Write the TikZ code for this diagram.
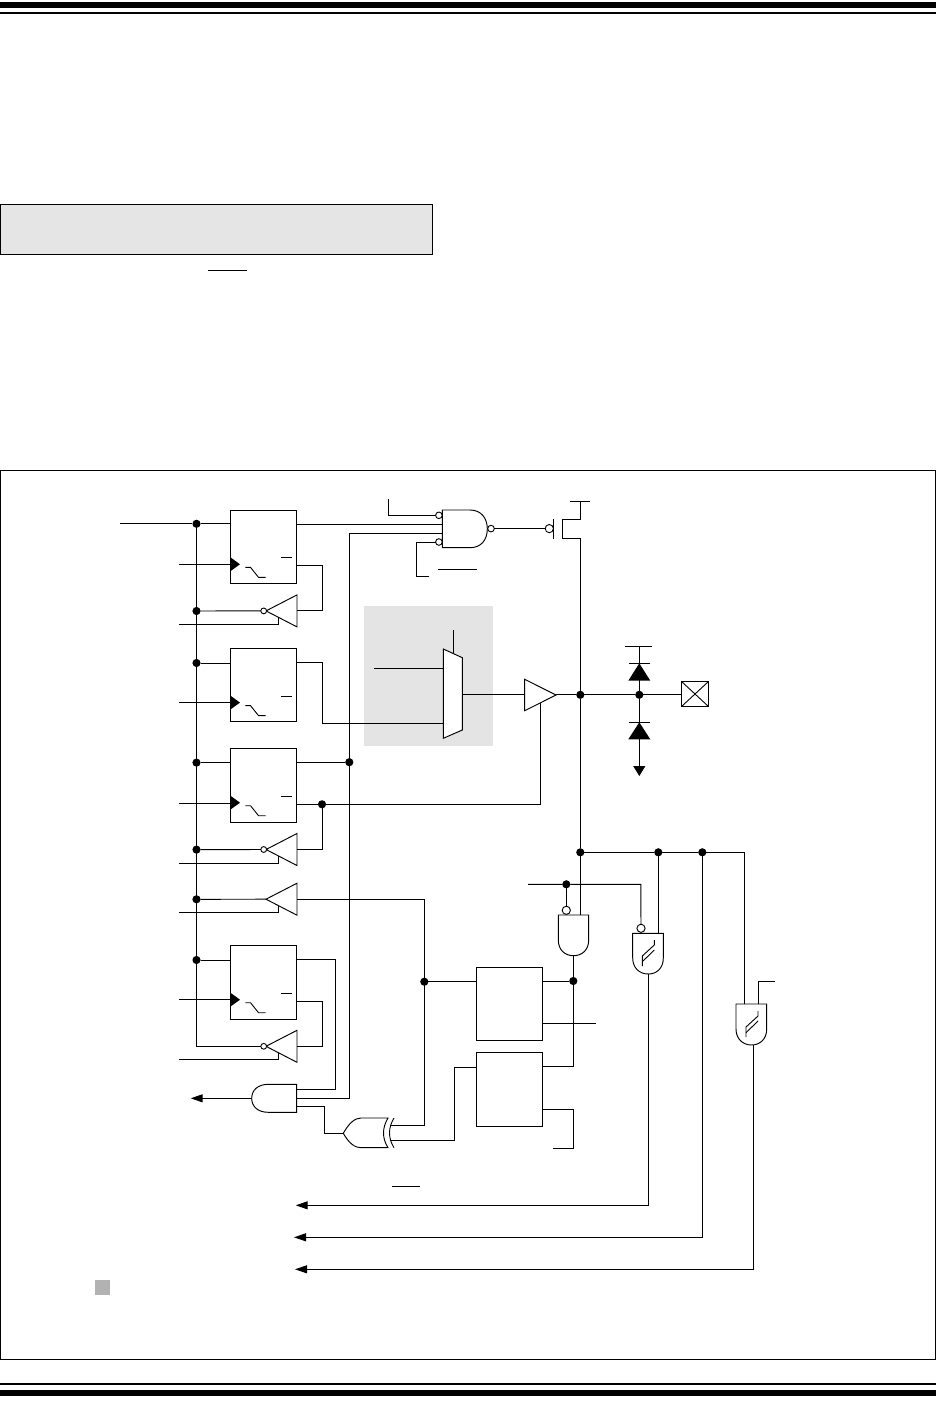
\documentclass[tikz,border=0pt]{standalone}
\usetikzlibrary{arrows.meta,calc}
\tikzset{
  x=1pt,y=-1pt,
  wire/.style={line width=0.95pt,line cap=butt,line join=miter},
  gate/.style={wire,fill=white},
  thin part/.style={line width=0.9pt},
  ffbox/.style={draw,line width=0.95pt,fill=white,rectangle,anchor=north west,minimum width=66.4pt,minimum height=73.6pt,inner sep=0pt,outer sep=0pt},
  dotn/.style={circle,fill=black,minimum size=8.2pt,inner sep=0pt,outer sep=0pt},
  bub/.style={circle,draw,line width=0.9pt,fill=white,minimum size=5.8pt,inner sep=0pt,outer sep=0pt},
  bubl/.style={circle,draw,line width=0.9pt,fill=white,minimum size=8.2pt,inner sep=0pt,outer sep=0pt},
  arrowl/.style={wire,-{Triangle[length=12pt,width=8pt]}},
  arrowd/.style={wire,-{Triangle[length=10pt,width=12pt]}},
  shadebox/.style={fill=black!10.5,draw=none},
}
% flip-flop box with clock wedge, bar and edge mark
\newcommand\FFbox[2]{%
  \node[ffbox] (#1) at (230.3,#2) {};
  \fill ($(230,#2)+(0,47)$) -- ($(240,#2)+(0,54.3)$) -- ($(230,#2)+(0,61.5)$) -- cycle;
  \draw[thin part] ($(281,#2)+(0,47.7)$) -- ($(292,#2)+(0,47.7)$);
  \draw[thin part] ($(245.3,#2)+(0,57.3)$) -- ($(250.5,#2)+(0,57.3)$) -- ($(258.5,#2)+(0,67.3)$) -- ($(265.7,#2)+(0,67.3)$);
}
% left-pointing tri-state buffer
\newcommand\TRI[2]{%
  \draw[gate] (297,#2-16) -- (297,#2+16) -- (266,#2) -- cycle;
  \coordinate (#1b) at (297,#2);
  \coordinate (#1a) at (266,#2);
  \coordinate (#1en) at (278.3,#2+6.3);
}
% hysteresis mark
\newcommand\HYST[2]{%
  \draw[thin part] (#1,#2+26) -- (#1,#2+16) -- (#1+12,#2+5) -- (#1+12,#2);
  \draw[thin part] (#1,#2+21.7) -- (#1+12,#2+10);
}
\begin{document}
\begin{tikzpicture}
\useasboundingbox (0,0) rectangle (936,1412);
% page rules
\fill (0,2) rectangle (936,8);
\fill (0,12) rectangle (936,14);
\fill (0,1383.3) rectangle (936,1385);
\fill (0,1389.7) rectangle (936,1396);
% title band
\draw[line width=0.95pt,fill=black!10] (0.5,204.5) rectangle (432.5,254.5);
\draw[wire] (208.3,270.3) -- (247,270.3);
% frame
\draw[line width=0.95pt] (0.7,470.3) rectangle (935,1359.3);
% shaded regions
\fill[shadebox] (364,606) rectangle (493,746);
\fill[black!30] (95,1280) rectangle (110,1295);

% junction dots
\node[dotn] (b1) at (196.5,523.8) {};
\node[dotn] (b2) at (196.5,611) {};
\node[dotn] (b3) at (196.5,663) {};
\node[dotn] (b4) at (196.5,762.6) {};
\node[dotn] (b5) at (196.5,849.6) {};
\node[dotn] (b6) at (196.5,899.3) {};
\node[dotn] (b7) at (196.5,960) {};
\node[dotn] (j1) at (349.3,762.2) {};
\node[dotn] (j2) at (322,804.3) {};
\node[dotn] (j3) at (424.3,981.7) {};
\node[dotn] (j4) at (580.3,694.8) {};
\node[dotn] (j5) at (639.3,694.8) {};
\node[dotn] (j6) at (580.3,852.3) {};
\node[dotn] (j7) at (658.3,852.3) {};
\node[dotn] (j8) at (702.3,852.3) {};
\node[dotn] (j9) at (566.3,884.3) {};
\node[dotn] (j10) at (573.3,981) {};

% flip-flops
\FFbox{ffa}{510}
\FFbox{ffb}{648.3}
\FFbox{ffc}{748.4}
\FFbox{ffd}{945.4}
% right-hand blocks
\node[ffbox] (blka) at (476.3,967.3) {};
\node[ffbox] (blkb) at (476.3,1052.4) {};

% tri-state buffers
\TRI{ia}{610.9}
\TRI{ib}{849.5}
\TRI{ic}{899.2}
\TRI{id}{1046.3}
\node[bub] (ba) at (263.7,610.9) {};
\node[bub] (bb) at (263.7,849.5) {};
\node[bub] (bd) at (263.7,1046.3) {};

% free ends
\coordinate (inA) at (120,523.8);
\coordinate (clka) at (179,564.5);
\coordinate (clkb) at (179,702.4);
\coordinate (clkc) at (179,803.3);
\coordinate (clkd) at (179,999.4);
\coordinate (ena) at (179,624.4);
\coordinate (enb) at (179,863.3);
\coordinate (enc) at (179,912.3);
\coordinate (end) at (179,1059.4);
\coordinate (busend) at (196.5,1046.3);

% bus and FF inputs
\draw[wire] (inA) -- (b1) -- (ffa.west |- b1);
\draw[wire] (b1) -- (busend) -- (bd.west);
\draw[wire] (b2) -- (ba.west);
\draw[wire] (b3) -- (ffb.west |- b3);
\draw[wire] (b4) -- (ffc.west |- b4);
\draw[wire] (b5) -- (bb.west);
\draw[wire] (b6) -- (ica);
\draw[wire] (b7) -- (ffd.west |- b7);
% clocks
\draw[wire] (clka) -- (ffa.west |- clka);
\draw[wire] (clkb) -- (ffb.west |- clkb);
\draw[wire] (clkc) -- (ffc.west |- clkc);
\draw[wire] (clkd) -- (ffd.west |- clkd);
% enables
\draw[wire] (ena) -| (iaen);
\draw[wire] (enb) -| (iben);
\draw[wire] (enc) -| (icen);
\draw[wire] (end) -| (iden);

% NAND output gate
\draw[gate] (442.3,510) -- (470,510) .. controls (481,510) and (487.3,518) .. (487.3,528.8)
  .. controls (487.3,540) and (481,547.7) .. (470,547.7) -- (442.3,547.7) -- cycle;
\node[bub,minimum size=6.6pt] (na) at (438.9,515.3) {};
\node[bub,minimum size=6.6pt] (nc) at (438.9,542) {};
\node[bub,minimum size=6.6pt] (no) at (491,528.6) {};
\coordinate (nin2) at (442.3,524.3);
\coordinate (nin3) at (442.3,533.3);
\coordinate (naTop) at (388.3,499);
\coordinate (ncEnd) at (429,576.3);
\draw[wire] (naTop) |- (na.west);
\draw[wire] (ncEnd) -| (416.3,542) -- (nc.west);
\draw[wire] (438,569.3) -- (477,569.3);
\draw[wire] (ffa.east |- nin2) -- (nin2);

% PMOS
\node[bubl] (pg) at (549.3,528.6) {};
\coordinate (vdd) at (580.3,501.3);
\draw[wire] (no.east) -- (pg.west);
\draw[wire] (553.3,519.3) -- (553.3,538.7);
\draw[wire] (570,501.3) -- (590,501.3);
\draw[wire] (vdd) -- (580.3,519.3) -- (562.3,519.3) -- (562.3,538.7) -- (580.3,538.7) -- (j4);

% Q-bar feedback of FF a
\draw[wire] (ffa.east |- 0,565.7) -- (322.3,565.7) -- (322.3,610.9) -- (iab);

% MUX
\draw[gate] (443.3,649) -- (462.3,657.7) -- (462.3,730) -- (443.3,738.3) -- cycle;
\coordinate (muxsel) at (453.3,630);
\coordinate (muxin) at (374,668.3);
\draw[wire] (muxsel) -- (453.3,653.3);
\draw[wire] (muxin) -- (443.3,668.3);
\draw[wire] (ffb.east |- 0,662.3) -- (322.3,662.3) -- (322.3,723.3) -- (443.3,723.3);

% output buffer
\draw[gate] (524.7,679.3) -- (556,695) -- (524.7,710.7) -- cycle;
\draw[wire] (462.3,694.3) -- (524.7,694.3);
\draw[wire] (556,694.8) -- (j4);
\draw[wire] (j4) -- (j5) -- (681.3,694.8);
\draw[wire] (j2) -- (540.3,804.3) -- (540.3,703);
\draw[wire] (ffc.east |- j2) -- (j2);
\draw[wire] (j2) -- (322,849.5) -- (ibb);

% Q of FF c into NAND and AND
\draw[wire] (ffc.east |- j1) -- (j1);
\draw[wire] (nin3) -- (349.3,533.3) -- (349.3,1098.3) -- (296.7,1098.3);

% pad
\node[draw,line width=0.95pt,fill=white,minimum width=27.4pt,minimum height=25.4pt,inner sep=0pt,outer sep=0pt] (pad) at (695,694) {};
\draw[thin part] (pad.north west) -- (pad.south east);
\draw[thin part] (pad.north east) -- (pad.south west);

% clamp diodes
\coordinate (rail) at (639.3,646);
\coordinate (gnd) at (639.3,776);
\draw[wire] (625,646) -- (651.7,646);
\draw[wire] (rail) -- (j5);
\draw[wire] (629,663.3) -- (650,663.3);
\fill (639.3,663.3) -- (650.3,680.7) -- (628.3,680.7) -- cycle;
\draw[wire] (629,722.3) -- (650,722.3);
\fill (639.3,722.3) -- (650.3,739.3) -- (628.3,739.3) -- cycle;
\draw[arrowd] (j5) -- (gnd);

% FF d feedback and AND gate
\draw[wire] (ffd.east |- 0,1001.3) -- (322.3,1001.3) -- (322.3,1046.3) -- (idb);
\draw[wire] (ffd.east |- 0,959.5) -- (335.3,959.5) -- (335.3,1089.3) -- (296.7,1089.3);
\draw[gate] (296.7,1084.3) -- (268.3,1084.3) .. controls (258,1084.3) and (251.7,1090) .. (251.7,1098.3)
  .. controls (251.7,1106.6) and (258,1112.3) .. (268.3,1112.3) -- (296.7,1112.3) -- cycle;
\coordinate (andout) at (190.7,1098.3);
\coordinate (andpin) at (251.7,1098.3);
\draw[arrowl] (andpin) -- (andout);

% XOR
\draw[gate] (343.3,1133.3) .. controls (349,1123) and (355,1118) .. (361,1118) -- (388,1118)
  .. controls (382,1128) and (382,1138) .. (388,1147.7) -- (361,1147.7)
  .. controls (355,1147.7) and (349,1143.5) .. (343.3,1133.3) -- cycle;
\draw[thin part] (394,1118) .. controls (388,1128) and (388,1138) .. (394,1147.7);
\coordinate (xtip) at (343.3,1133.3);
\draw[wire] (296.7,1106.3) -- (324.3,1106.3) -- (324.3,1133.3) -- (xtip);
\draw[wire] (icb) -- (424.3,899.2) -- (424.3,1125.3) -- (389.5,1125.3);
\draw[wire] (j3) -- (blka.west |- j3);
\draw[wire] (389.5,1140.3) -- (454.3,1140.3) -- (454.3,1067.3) -- (476.3,1067.3);

% right blocks wiring
\node[draw=none,fill=none,inner sep=0pt] (g1anch) at (573.3,955.7) {};
\draw[wire] (blka.east |- j10) -- (j10);
\draw[wire] (blka.east |- 0,1023.3) -- (595.7,1023.3);
\draw[wire] (g1anch) -- (j10) -- (573.3,1066.3) -- (blkb.east |- 0,1066.3);
\draw[wire] (blkb.east |- 0,1109.3) -- (573.3,1109.3) -- (573.3,1148.3) -- (553,1148.3);

% lower AND and hysteresis gates
\draw[gate] (558.3,915) -- (588.7,915) -- (588.7,940) .. controls (588.7,950) and (582,955.7) .. (573.5,955.7)
  .. controls (565,955.7) and (558.3,950) .. (558.3,940) -- cycle;
\node[bubl] (gb1) at (566.3,910.3) {};
\draw[gate] (632.7,933.3) -- (663.3,933.3) -- (663.3,958) .. controls (663.3,968) and (657,974) .. (648.3,974)
  .. controls (639.5,974) and (632.7,968) .. (632.7,958) -- cycle;
\node[bubl] (gb2) at (641,928.3) {};
\HYST{642.3}{940}
\draw[gate] (736,1004) -- (766.7,1004) -- (766.7,1029) .. controls (766.7,1039) and (760,1045) .. (751.5,1045)
  .. controls (743,1045) and (736,1039) .. (736,1029) -- cycle;
\HYST{746}{1011}

% sense input
\coordinate (sens) at (528,884.3);
\draw[wire] (sens) -- (j9) -- (640.8,884.3) -- (gb2.north);
\draw[wire] (j9) -- (gb1.north);

% pad node distribution
\draw[wire] (j4) -- (j6) -- (580.3,915);
\draw[wire] (j6) -- (j7) -- (j8) -- (744.3,852.3) -- (744.3,1004);
\draw[wire] (j7) -- (658.3,933.3);
\coordinate (stin) at (774.7,981.3);
\draw[wire] (stin) -- (758.3,981.3) -- (758.3,1004);

% outgoing arrows
\coordinate (outa) at (295.7,1205.3);
\coordinate (outb) at (294,1237.3);
\coordinate (outc) at (295,1269.3);
\draw[arrowl] (648.3,974) -- (648.3,1205.3) -- (outa);
\draw[arrowl] (j8) -- (702.3,1237.3) -- (outb);
\draw[arrowl] (753.3,1045) -- (753.3,1269.3) -- (outc);
\draw[wire] (392.3,1186) -- (420,1186);
\end{tikzpicture}
\end{document}
